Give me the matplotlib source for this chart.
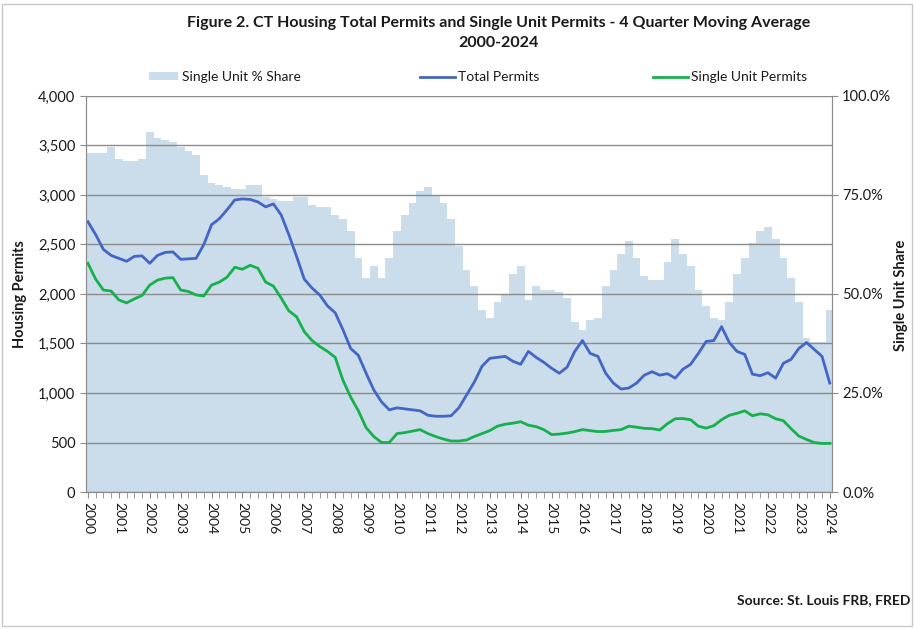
import numpy as np
import matplotlib
matplotlib.use("Agg")
import matplotlib.pyplot as plt
from matplotlib.ticker import FuncFormatter, MultipleLocator
from matplotlib.patches import Patch, Rectangle
from matplotlib.lines import Line2D

plt.rcParams["font.family"] = ["Lato", "DejaVu Sans"]

# quarterly, 4 quarter moving average, 2000Q1 .. 2024Q1
years = list(range(2000, 2025))

total_permits = [
    2730, 2600, 2450, 2390, 2360, 2330, 2380, 2385, 2310, 2390, 2420, 2425,
    2350, 2355, 2360, 2500, 2700, 2760, 2850, 2950, 2960, 2955, 2930, 2880,
    2910, 2800, 2600, 2380, 2150, 2060, 1990, 1880, 1810, 1640, 1450, 1380,
    1200, 1030, 910, 830, 850, 840, 830, 820, 775, 765, 765, 770,
    850, 980, 1110, 1270, 1350, 1360, 1370, 1320, 1290, 1420, 1360, 1310,
    1250, 1200, 1260, 1420, 1530, 1400, 1370, 1200, 1100, 1040, 1050, 1100,
    1180, 1215, 1180, 1195, 1150, 1240, 1290, 1400, 1520, 1530, 1670, 1510,
    1420, 1390, 1190, 1175, 1205, 1150, 1300, 1340, 1450, 1510, 1440, 1370,
    1100,
]

single_permits = [
    2310, 2150, 2040, 2030, 1940, 1910, 1950, 1985, 2090, 2140, 2160, 2165,
    2040, 2025, 1990, 1980, 2090, 2120, 2170, 2270, 2250, 2290, 2260, 2120,
    2080, 1960, 1830, 1770, 1620, 1530, 1470, 1420, 1360, 1130, 960, 820,
    650, 560, 500, 500, 590, 600, 615, 630, 590, 560, 535, 515,
    515, 525, 560, 590, 620, 665, 685, 695, 710, 675, 660, 630,
    580, 585, 595, 610, 630, 620, 610, 612, 622, 630, 665, 655,
    643, 640, 626, 690, 740, 742, 730, 665, 645, 670, 730, 775,
    795, 820, 770, 790, 780, 740, 720, 640, 565, 530, 500, 490,
    492,
]

single_share = [
    85.5, 85.5, 85.5, 87.0, 84.0, 83.5, 83.5, 84.0, 91.0, 89.5, 89.0, 88.5,
    87.0, 86.0, 85.0, 80.0, 78.0, 77.5, 77.0, 76.5, 76.5, 77.5, 77.5, 74.5,
    74.0, 73.5, 73.5, 74.5, 74.5, 72.5, 72.0, 72.0, 70.0, 69.0, 66.0, 59.0,
    54.0, 57.0, 54.0, 59.0, 66.0, 70.0, 73.0, 76.0, 77.0, 75.0, 73.0, 69.0,
    62.0, 56.0, 52.0, 46.0, 44.0, 48.0, 50.0, 55.0, 57.0, 48.5, 52.0, 51.0,
    51.0, 50.5, 49.0, 43.0, 41.0, 43.5, 44.0, 52.0, 56.0, 60.0, 63.5, 59.0,
    54.5, 53.5, 53.5, 58.0, 64.0, 60.0, 57.0, 51.0, 47.0, 44.0, 43.5, 48.0,
    55.0, 59.0, 63.0, 66.0, 67.0, 64.0, 59.0, 54.0, 48.0, 39.0, 38.0, 38.0,
    46.0,
]

blue = "#4366c4"
green = "#16b04c"
area = "#cbdcea"
grid = "#8c8c8c"
text_c = "#1a1a1a"

fig = plt.figure(figsize=(9.14, 6.29), dpi=100)
fig.add_artist(Rectangle((0.002, 0.004), 0.996, 0.99, transform=fig.transFigure,
                         fill=False, edgecolor="#c8c8c8", linewidth=1.0))

ax = fig.add_axes([0.094, 0.2178, 0.816, 0.6296])
ax2 = ax.twinx()

x = np.arange(len(total_permits))

# share columns behind the lines
ax2.bar(x, single_share, width=1.0, color=area, linewidth=0, align="center")
ax2.set_ylim(0, 100)
ax2.yaxis.set_major_locator(MultipleLocator(25))
ax2.yaxis.set_major_formatter(FuncFormatter(lambda v, p: f"{v:.1f}%"))

ax.set_zorder(ax2.get_zorder() + 1)
ax.patch.set_visible(False)

ax.plot(x, total_permits, color=blue, linewidth=2.0, solid_joinstyle="round")
ax.plot(x, single_permits, color=green, linewidth=2.0, solid_joinstyle="round")
ax.set_ylim(0, 4000)
ax.yaxis.set_major_locator(MultipleLocator(500))
ax.yaxis.set_major_formatter(FuncFormatter(lambda v, p: f"{int(v):,}"))
ax.grid(axis="y", color=grid, linewidth=1.0)
ax.set_axisbelow(True)

ax.set_xlim(-0.26, len(x) - 1 + 0.26)
ax.set_xticks([4 * (y - 2000) for y in years])
ax.set_xticklabels([str(y) for y in years], rotation=270, fontsize=10, color=text_c)
ax.set_xticks(x, minor=True)
ax.tick_params(axis="x", which="both", length=4, color=grid, direction="out", pad=3)
ax.tick_params(axis="y", length=4, color=grid, labelsize=10.5, labelcolor=text_c)
ax2.tick_params(axis="y", length=4, color=grid, labelsize=10.5, labelcolor=text_c)

for a in (ax, ax2):
    a.spines["top"].set_visible(False)
    for s in ("left", "right", "bottom"):
        a.spines[s].set_color(grid)

ax.set_ylabel("Housing Permits", fontsize=10.5, fontweight="bold", color=text_c, labelpad=8)
fig.text(0.986, 0.53, "Single Unit Share", rotation=90, fontsize=10.5,
         fontweight="bold", color=text_c, ha="center", va="center")

fig.text(0.545, 0.964, "Figure 2. CT Housing Total Permits and Single Unit Permits - 4 Quarter Moving Average",
         ha="center", va="center", fontsize=11.5, fontweight="bold", color=text_c)
fig.text(0.545, 0.931, "2000-2024", ha="center", va="center", fontsize=11.5,
         fontweight="bold", color=text_c)

# legend entries placed one by one, like the spread-out Excel legend
entries = [
    (Patch(facecolor=area, edgecolor="none"), "Single Unit % Share", 149, 2.1),
    (Line2D([], [], color=blue, linewidth=2.0), "Total Permits", 420, 2.5),
    (Line2D([], [], color=green, linewidth=2.0), "Single Unit Permits", 653, 2.5),
]
for handle, label, left_px, hl in entries:
    leg = fig.legend([handle], [label], loc="center left",
                     bbox_to_anchor=(left_px / 914, 0.8776), frameon=False,
                     fontsize=10, borderpad=0, borderaxespad=0, handlelength=hl,
                     handleheight=0.5, handletextpad=0.25, labelcolor=text_c)

fig.text(0.996, 0.046, "Source: St. Louis FRB, FRED", ha="right", va="center",
         fontsize=10, fontweight="bold", color=text_c)

fig.savefig("out.png", dpi=100)
